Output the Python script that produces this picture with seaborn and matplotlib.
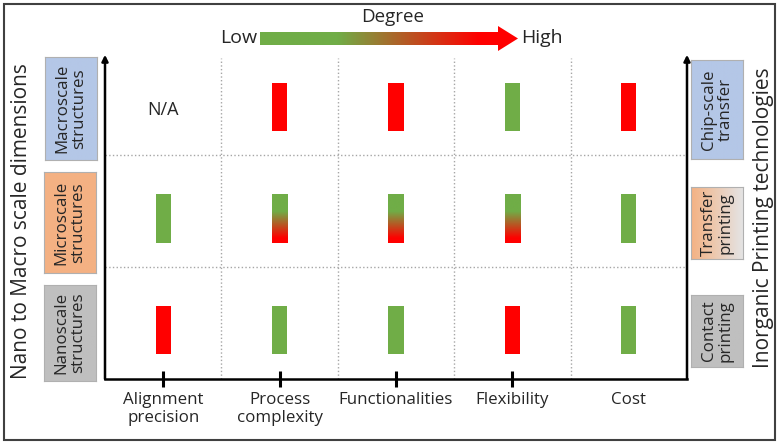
import numpy as np
import pandas as pd
import matplotlib
matplotlib.use("Agg")
import matplotlib.pyplot as plt
import seaborn as sns
from matplotlib.colors import to_rgb
from matplotlib.patches import Polygon, Rectangle

# --- dados do quadro ---
criterios = ["Alignment\nprecision", "Process\ncomplexity", "Functionalities", "Flexibility", "Cost"]
escalas = ["Nanoscale\nstructures", "Microscale\nstructures", "Macroscale\nstructures"]
tecnologias = ["Contact\nprinting", "Transfer\nprinting", "Chip-scale\ntransfer"]
nivel_nano = ["High", "Low", "Low", "High", "Low"]
nivel_micro = ["Low", "Mixed", "Mixed", "Mixed", "Low"]
nivel_macro = ["N/A", "High", "High", "Low", "High"]
niveis_por_linha = [nivel_nano, nivel_micro, nivel_macro]

VERDE = "#70ad47"
VERMELHO = "#ff0000"
paleta = {"High": VERMELHO, "Low": VERDE, "Mixed": VERDE}
cores_escala = ["#bfbfbf", "#f4b183", "#b4c7e7"]

ALT_BARRA = 0.43
BASE_BARRA = 0.22
LARG_BARRA = 0.13

W, H = 780, 444


def fig_rect(x0, y0, x1, y1):
    # pixels (origem no topo) -> fração da figura
    return [x0 / W, 1 - y1 / H, (x1 - x0) / W, (y1 - y0) / H]


def degrade(t, ini=0.3, fim=0.88):
    g, r = np.array(to_rgb(VERDE)), np.array(to_rgb(VERMELHO))
    f = np.clip((t - ini) / (fim - ini), 0, 1)[:, None]
    return g * (1 - f) + r * f


sns.set_theme(style="white")
plt.rcParams['font.family'] = ['Open Sans', 'DejaVu Sans']

fig = plt.figure(figsize=(W / 100, H / 100), dpi=100)
ax = fig.add_axes(fig_rect(105, 58, 687, 379))

# --- barras (uma chamada por linha) ---
for r, niveis in enumerate(niveis_por_linha):
    df = pd.DataFrame({"criterio": criterios, "nivel": niveis, "altura": ALT_BARRA})
    df = df[df["nivel"] != "N/A"]
    sns.barplot(data=df, x="criterio", y="altura", hue="nivel", order=criterios,
                palette=paleta, width=LARG_BARRA, bottom=r + BASE_BARRA,
                errorbar=None, legend=False, dodge=False, saturation=1,
                linewidth=0, ax=ax)

# barras com transição verde -> vermelho
t = np.linspace(0, 1, 200)
grad_v = degrade(t, 0.35, 0.9)[:, None, :]
for r, niveis in enumerate(niveis_por_linha):
    for i, nv in enumerate(niveis):
        if nv == "Mixed":
            ax.imshow(grad_v, extent=(i - LARG_BARRA / 2, i + LARG_BARRA / 2,
                                      r + BASE_BARRA, r + BASE_BARRA + ALT_BARRA),
                      aspect="auto", interpolation="bilinear", zorder=3)
        elif nv == "N/A":
            ax.text(i, r + BASE_BARRA + ALT_BARRA / 2 - 0.03, "N/A", ha="center",
                    va="center", fontsize=13)

ax.set_xlim(-0.5, len(criterios) - 0.5)
ax.set_ylim(0, 2.87)
ax.set_xlabel("")
ax.set_ylabel("")
ax.set_yticks([])

# grade pontilhada
for i in range(len(criterios) - 1):
    ax.axvline(i + 0.5, color="#a6a6a6", ls=":", lw=1, zorder=0)
for r in range(1, len(escalas)):
    ax.axhline(r, color="#a6a6a6", ls=":", lw=1, zorder=0)

# eixos
for s in ["top", "right", "left"]:
    ax.spines[s].set_visible(False)
ax.spines["bottom"].set_color("black")
ax.spines["bottom"].set_linewidth(1.8)
for xa in [0, 1]:
    ax.annotate("", xy=(xa, 1.01), xytext=(xa, 0), xycoords="axes fraction",
                arrowprops=dict(arrowstyle="-|>", color="black", lw=1.8,
                                mutation_scale=9, shrinkA=0, shrinkB=0))

ax.set_xticks(range(len(criterios)))
ax.set_xticklabels(criterios, fontsize=12.2)
ax.tick_params(axis="x", direction="inout", length=12, width=2.2, color="black",
               pad=3, bottom=True)
ax.xaxis.get_major_ticks()[-1].tick1line.set_visible(False)

# rótulos laterais
fig.text(22 / W, 1 - 221 / H, "Nano to Macro scale dimensions", rotation=90,
         ha="center", va="center", fontsize=15)
fig.text(763 / W, 1 - 218 / H, "Inorganic Printing technologies", rotation=90,
         ha="center", va="center", fontsize=15)


def caixa(ret, texto, cor_esq, cor_dir=None):
    bx = fig.add_axes(ret)
    cor_dir = cor_dir or cor_esq
    s = np.linspace(0, 1, 100)[:, None]
    img = np.array(to_rgb(cor_esq)) * (1 - s) + np.array(to_rgb(cor_dir)) * s
    bx.imshow(img[None, :, :], aspect="auto", extent=(0, 1, 0, 1), interpolation="bilinear")
    bx.set_xticks([])
    bx.set_yticks([])
    for sp in bx.spines.values():
        sp.set_color("#b0b0b0")
        sp.set_linewidth(0.8)
    bx.text(0.5, 0.5, texto, rotation=90, ha="center", va="center", fontsize=12.2,
            linespacing=1.05, transform=bx.transAxes)


caixas_esq = [(44, 285, 96, 381), (44, 172, 96, 273), (45, 57, 97, 160)]
caixas_dir = [(691, 295, 743, 367), (691, 187, 743, 259), (691, 60, 743, 159)]
for k in range(3):
    caixa(fig_rect(*caixas_esq[k]), escalas[k], cores_escala[k])
    fim = "#e4e4e4" if k == 1 else None
    caixa(fig_rect(*caixas_dir[k]), tecnologias[k], cores_escala[k], fim)

# seta "Degree" no topo
sx = fig.add_axes(fig_rect(258, 25, 520, 52))
sx.set_xlim(0, 262)
sx.set_ylim(0, 27)
sx.axis("off")
seta = Polygon([(2, 7), (240, 7), (240, 1), (260, 13.5), (240, 26), (240, 20), (2, 20)],
               closed=True, fc="none", ec="none")
sx.add_patch(seta)
grad_h = degrade(np.linspace(0, 1, 300), 0.3, 0.85)[None, :, :]
im = sx.imshow(grad_h, extent=(2, 260, 0, 27), aspect="auto", interpolation="bilinear")
im.set_clip_path(seta)
sx.set_xlim(0, 262)
sx.set_ylim(0, 27)

fig.text(393 / W, 1 - 17 / H, "Degree", ha="center", va="center", fontsize=13.5)
fig.text(257 / W, 1 - 38 / H, "Low", ha="right", va="center", fontsize=14)
fig.text(521 / W, 1 - 38 / H, "High", ha="left", va="center", fontsize=14)

# moldura externa
fig.patches.append(Rectangle((4 / W, 4 / H), 771 / W, 436 / H, transform=fig.transFigure,
                             fill=False, ec="#404040", lw=1.5))

fig.savefig("out.png", dpi=100)
plt.close(fig)
